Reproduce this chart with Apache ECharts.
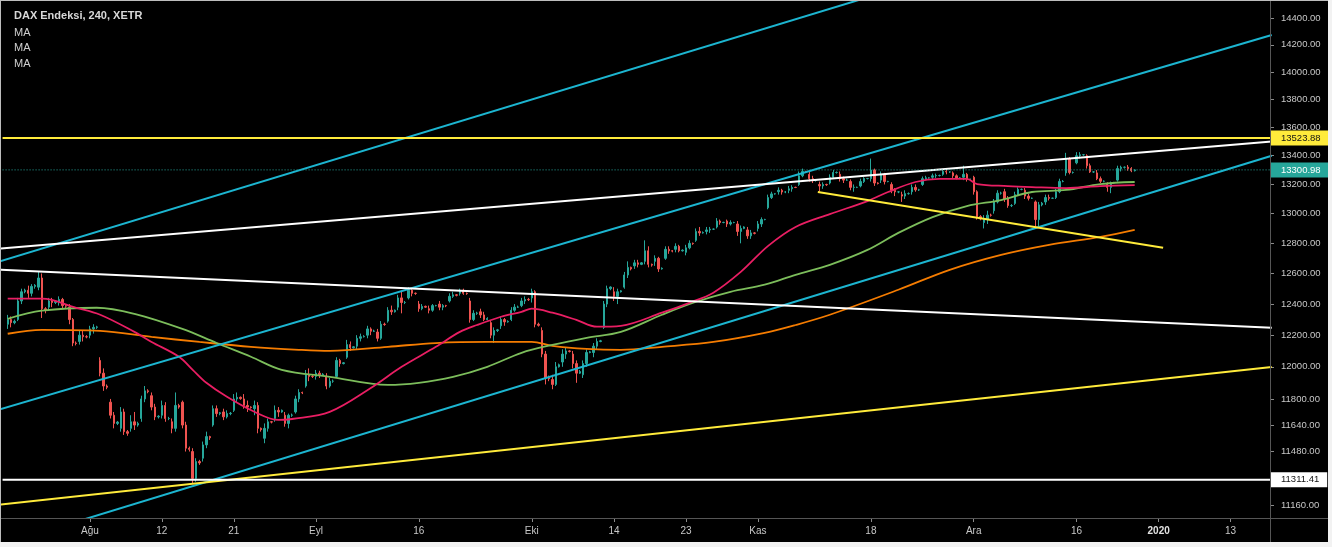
<!DOCTYPE html>
<html><head><meta charset="utf-8">
<script src="https://cdn.jsdelivr.net/npm/echarts@6/dist/echarts.min.js"></script>
<style>html,body{margin:0;padding:0;background:#000;}#c{width:1332px;height:547px;}</style>
</head><body><div id="c"></div>
<script>
// ---------- axis structure ----------
const leadSlot = '2019-07-19 17:00';
const firstDay = '2019-07-22', lastDay = '2020-01-16';
const holidays = ['2019-10-03','2019-12-24','2019-12-25','2019-12-26','2019-12-31','2020-01-01'];
const barTimes = ['09:00','13:00','17:00'];
const dateLabels = {'2019-08-01':'Ağu','2019-08-12':'12','2019-08-21':'21','2019-09-02':'Eyl','2019-09-16':'16',
  '2019-10-01':'Eki','2019-10-14':'14','2019-10-23':'23','2019-11-01':'Kas','2019-11-18':'18','2019-12-02':'Ara',
  '2019-12-16':'16','2020-01-02':'2020','2020-01-13':'13'};
const yTicks = [11160,11480,11640,11800,12000,12200,12400,12600,12800,13000,13200,13400,13600,13800,14000,14200,14400];
const yRange = [11088, 14521];

// ---------- candles [open, close, low, high], 3 bars per session from 2019-07-22 ----------
const candles = [
[12270,12300,12240,12330],[12300,12280,12250,12320],[12280,12289,12270,12300],
[12300,12420,12290,12440],[12420,12480,12400,12500],[12480,12490,12470,12500],
[12490,12470,12440,12520],[12470,12515,12450,12530],[12515,12522,12500,12530],
[12510,12570,12490,12610],[12570,12370,12310,12600],[12370,12362,12340,12380],
[12380,12420,12360,12440],[12420,12410,12380,12440],[12410,12419,12400,12425],
[12410,12430,12390,12450],[12430,12390,12370,12440],[12390,12386,12375,12400],
[12380,12300,12270,12400],[12300,12150,12130,12310],[12150,12147,12135,12160],
[12160,12200,12140,12230],[12200,12190,12160,12230],[12190,12189,12180,12200],
[12200,12240,12180,12260],[12240,12250,12210,12270],[12250,12253,12240,12260],
[12040,11960,11940,12060],[11960,11880,11850,11990],[11880,11872,11860,11890],
[11780,11700,11680,11800],[11700,11650,11620,11720],[11650,11658,11640,11665],
[11620,11720,11600,11750],[11720,11600,11580,11740],[11600,11590,11575,11610],
[11620,11660,11600,11700],[11660,11640,11610,11720],[11640,11650,11630,11660],
[11680,11800,11660,11820],[11800,11850,11780,11880],[11850,11845,11835,11860],
[11820,11750,11730,11840],[11750,11690,11670,11770],[11690,11694,11680,11700],
[11700,11760,11680,11790],[11760,11680,11660,11780],[11680,11680,11670,11690],
[11660,11620,11590,11680],[11620,11760,11600,11840],[11760,11750,11740,11770],
[11780,11640,11620,11790],[11640,11500,11480,11660],[11500,11493,11480,11510],
[11480,11320,11290,11500],[11320,11420,11300,11440],[11420,11412,11400,11430],
[11440,11520,11420,11540],[11520,11570,11500,11600],[11570,11563,11550,11575],
[11640,11740,11630,11760],[11740,11710,11690,11760],[11710,11715,11700,11720],
[11720,11690,11670,11740],[11690,11710,11680,11730],[11710,11712,11700,11720],
[11730,11800,11720,11830],[11800,11810,11780,11840],[11810,11802,11795,11815],
[11800,11760,11740,11830],[11760,11750,11720,11790],[11750,11747,11740,11755],
[11740,11760,11700,11790],[11760,11620,11590,11780],[11620,11612,11600,11625],
[11560,11620,11530,11650],[11620,11660,11600,11680],[11660,11658,11650,11665],
[11680,11730,11660,11760],[11730,11720,11690,11750],[11720,11730,11715,11735],
[11700,11650,11630,11720],[11650,11700,11620,11710],[11700,11701,11690,11710],
[11720,11800,11710,11820],[11800,11840,11780,11860],[11840,11838,11830,11845],
[11880,11950,11870,11980],[11950,11940,11910,11990],[11940,11939,11930,11950],
[11940,11960,11920,11980],[11960,11950,11930,11975],[11950,11953,11945,11960],
[11940,11880,11860,11960],[11880,11910,11870,11930],[11910,11910,11900,11920],
[11940,12040,11930,12060],[12040,12020,12000,12050],[12020,12025,12015,12030],
[12060,12140,12050,12170],[12140,12120,12100,12160],[12120,12126,12115,12130],
[12130,12180,12110,12200],[12180,12190,12160,12210],[12190,12192,12185,12200],
[12200,12240,12180,12260],[12240,12225,12200,12250],[12225,12226,12220,12235],
[12220,12180,12160,12240],[12180,12270,12170,12290],[12270,12268,12260,12280],
[12290,12360,12280,12380],[12360,12350,12330,12390],[12350,12360,12345,12365],
[12380,12440,12360,12460],[12440,12410,12340,12480],[12410,12410,12400,12420],
[12440,12490,12430,12510],[12490,12470,12450,12500],[12470,12469,12460,12475],
[12400,12370,12350,12420],[12370,12385,12360,12400],[12385,12380,12375,12390],
[12370,12360,12340,12390],[12360,12390,12350,12400],[12390,12390,12385,12395],
[12400,12380,12360,12420],[12380,12390,12360,12400],[12390,12389,12380,12395],
[12420,12450,12410,12470],[12450,12460,12440,12480],[12460,12457,12450,12465],
[12470,12490,12455,12500],[12490,12470,12460,12500],[12470,12468,12460,12475],
[12420,12300,12280,12440],[12300,12340,12290,12360],[12340,12342,12330,12350],
[12350,12330,12310,12370],[12330,12300,12290,12350],[12300,12307,12295,12315],
[12280,12200,12180,12290],[12200,12230,12150,12250],[12230,12234,12220,12240],
[12260,12300,12240,12320],[12300,12285,12260,12310],[12285,12288,12280,12295],
[12300,12360,12290,12380],[12360,12380,12350,12400],[12380,12381,12375,12390],
[12390,12420,12380,12440],[12420,12430,12400,12450],[12430,12428,12420,12440],
[12440,12480,12410,12500],[12480,12270,12250,12490],[12270,12263,12255,12280],
[12230,12080,12060,12250],[12080,11930,11890,12100],[11930,11925,11910,11945],
[11920,11890,11860,11950],[11890,12000,11880,12030],[12000,12013,11995,12020],
[12030,12080,12000,12110],[12080,12100,12050,12120],[12100,12097,12090,12105],
[12080,12020,11990,12100],[12020,11960,11900,12040],[11960,11970,11955,11980],
[11950,12020,11930,12040],[12020,12090,12000,12110],[12090,12094,12085,12100],
[12090,12130,12060,12150],[12130,12160,12110,12180],[12160,12164,12155,12170],
[12250,12400,12240,12420],[12400,12500,12380,12520],[12500,12511,12490,12515],
[12480,12450,12420,12510],[12450,12480,12400,12500],[12480,12486,12475,12490],
[12510,12590,12500,12610],[12590,12640,12570,12680],[12640,12630,12620,12645],
[12650,12670,12630,12690],[12670,12660,12640,12690],[12660,12670,12655,12675],
[12680,12750,12660,12820],[12750,12660,12640,12780],[12660,12655,12645,12665],
[12680,12700,12650,12720],[12700,12630,12610,12710],[12630,12634,12625,12640],
[12700,12760,12690,12780],[12760,12750,12730,12780],[12750,12748,12740,12755],
[12760,12780,12740,12800],[12780,12750,12740,12790],[12750,12754,12745,12760],
[12740,12770,12720,12790],[12770,12800,12760,12820],[12800,12798,12790,12805],
[12820,12880,12810,12900],[12880,12870,12850,12910],[12870,12872,12865,12880],
[12880,12890,12860,12910],[12890,12895,12870,12910],[12895,12895,12890,12900],
[12910,12950,12900,12970],[12950,12940,12925,12960],[12940,12941,12935,12945],
[12950,12930,12910,12960],[12930,12940,12920,12955],[12940,12940,12935,12945],
[12930,12880,12850,12950],[12880,12900,12800,12920],[12900,12910,12895,12915],
[12890,12850,12830,12910],[12850,12870,12830,12890],[12870,12867,12860,12875],
[12900,12930,12880,12950],[12930,12960,12910,12975],[12960,12961,12955,12965],
[13040,13110,13030,13130],[13110,13135,13100,13150],[13135,13136,13130,13140],
[13150,13160,13130,13180],[13160,13148,13130,13170],[13148,13148,13140,13155],
[13160,13170,13140,13190],[13170,13180,13150,13195],[13180,13179,13175,13185],
[13200,13260,13190,13290],[13260,13290,13250,13310],[13290,13289,13285,13295],
[13270,13240,13220,13290],[13240,13228,13210,13260],[13228,13228,13220,13235],
[13200,13190,13150,13220],[13190,13200,13170,13215],[13200,13198,13190,13205],
[13210,13250,13200,13270],[13250,13283,13240,13300],[13283,13283,13275,13290],
[13270,13240,13220,13290],[13240,13230,13210,13255],[13230,13230,13225,13240],
[13220,13180,13160,13235],[13180,13180,13150,13200],[13180,13180,13175,13185],
[13190,13220,13180,13240],[13220,13241,13210,13250],[13241,13241,13235,13245],
[13240,13300,13220,13380],[13300,13210,13190,13310],[13210,13207,13200,13215],
[13230,13270,13210,13290],[13270,13220,13200,13280],[13220,13221,13215,13225],
[13200,13160,13140,13215],[13160,13149,13120,13175],[13149,13149,13140,13155],
[13130,13120,13080,13150],[13120,13137,13100,13160],[13137,13137,13130,13145],
[13150,13180,13130,13200],[13180,13163,13150,13200],[13163,13163,13155,13170],
[13200,13240,13190,13255],[13240,13246,13230,13260],[13246,13246,13240,13250],
[13250,13260,13235,13275],[13260,13262,13245,13275],[13262,13262,13255,13268],
[13270,13290,13260,13300],[13290,13287,13270,13300],[13287,13287,13280,13292],
[13280,13260,13245,13290],[13260,13245,13235,13270],[13245,13245,13240,13250],
[13250,13270,13230,13330],[13270,13236,13220,13280],[13236,13236,13230,13240],
[13250,13150,13130,13260],[13150,12980,12960,13160],[12980,12965,12955,12990],
[12940,12960,12900,12990],[12960,12990,12930,13020],[12990,12989,12980,13000],
[13020,13080,13000,13100],[13080,13140,13070,13160],[13140,13140,13130,13150],
[13150,13100,13080,13170],[13100,13055,13040,13120],[13055,13055,13045,13065],
[13070,13130,13060,13150],[13130,13166,13120,13180],[13166,13166,13160,13172],
[13160,13120,13100,13175],[13120,13105,13090,13135],[13105,13105,13100,13110],
[13080,12960,12900,13090],[12960,13060,12910,13080],[13060,13071,13050,13080],
[13080,13110,13060,13130],[13110,13105,13090,13130],[13105,13105,13100,13110],
[13110,13150,13100,13170],[13150,13221,13140,13240],[13221,13221,13215,13230],
[13280,13380,13260,13420],[13380,13283,13270,13390],[13283,13283,13275,13290],
[13350,13400,13340,13425],[13400,13407,13380,13425],[13407,13407,13400,13412],
[13400,13330,13310,13410],[13330,13287,13280,13345],[13287,13287,13280,13292],
[13280,13240,13230,13300],[13240,13222,13210,13255],[13222,13222,13215,13228],
[13200,13180,13150,13215],[13180,13211,13140,13220],[13211,13211,13205,13218],
[13230,13310,13220,13330],[13310,13319,13290,13330],[13319,13319,13310,13325],
[13320,13310,13295,13335],[13310,13295,13285,13320],[13295,13300.98,13290,13305]
];

// ---------- moving averages: [bar index from 2019-07-22, price] ----------
const maFast = [[0,12435],[10,12435],[20,12376],[27,12331],[37,12221],[42,12157],[50,12063],[54,11981],[58,11900],
 [64,11813],[72,11721],[79,11671],[83,11677],[94,11721],[106,11868],[115,12000],[125,12126],[132,12221],[137,12265],
 [144,12318],[150,12350],[153,12370],[159,12344],[166,12298],[172,12254],[179,12260],[191,12344],[199,12408],
 [206,12474],[214,12610],[222,12783],[230,12910],[240,12997],[251,13086],[257,13148],[265,13217],[272,13238],
 [280,13238],[283,13203],[292,13189],[299,13182],[309,13175],[319,13189],[329,13196]];
const maMid = [[0,12305],[10,12357],[26,12376],[37,12337],[51,12240],[61,12150],[71,12063],[80,11981],[94,11937],
 [111,11887],[120,11900],[130,11937],[140,12000],[150,12088],[159,12138],[169,12183],[179,12221],[191,12331],
 [201,12415],[211,12480],[221,12526],[230,12591],[240,12657],[251,12756],[260,12870],[270,12977],[280,13052],
 [290,13093],[299,13148],[309,13162],[319,13203],[329,13217]];
const maSlow = [[0,12209],[10,12234],[27,12228],[42,12189],[56,12157],[71,12126],[85,12107],[94,12100],[111,12126],
 [125,12150],[140,12157],[153,12157],[159,12132],[169,12113],[179,12107],[191,12126],[206,12157],[221,12215],
 [230,12265],[240,12331],[260,12493],[275,12624],[290,12723],[304,12790],[319,12843],[329,12890]];

// ---------- drawn trend lines: two anchors [bar index, price] ----------
const cyanTop = [[-2,12682],[258,14612]];
const cyanMid = [[-2,11738],[369,14273]];
const cyanLow = [[20,11066],[369,13400]];
const whiteUp = [[-2,12765],[369,13500]];
const whiteDown = [[-2,12625],[369,12247]];
const yellowUp = [[-2,11167],[369,11999]];
const yellowDown = [[236.5,13148],[337.3,12770]];
const levelYellow = 13523.88, levelWhite = 11311.41, lastPrice = 13300.98;

// ---------- build ----------
const days = [];
{
  let t = Date.parse(firstDay + 'T00:00:00Z');
  const end = Date.parse(lastDay + 'T00:00:00Z');
  while (t <= end) {
    const d = new Date(t), s = d.toISOString().slice(0,10), wd = d.getUTCDay();
    if (wd !== 0 && wd !== 6 && holidays.indexOf(s) < 0) days.push(s);
    t += 86400000;
  }
}
const cats = [leadSlot];
days.forEach(d => barTimes.forEach(tm => cats.push(d + ' ' + tm)));
const labelOf = {};
cats.forEach((c, i) => { const p = c.split(' '); if (p[1] === '09:00' && dateLabels[p[0]]) labelOf[i] = dateLabels[p[0]]; });
const showAt = (i) => labelOf[i] !== undefined;
// logarithmic price scale: values are plotted as K*ln(price)
const K = 10000;
const L = p => K * Math.log(p);
const unL = v => Math.exp(v / K);
const toLog = arr => arr.map(p => [p[0], L(p[1])]);
const xMin = -1.5, xMax = cats.length - 1.5;   // value axis aligned with category bands (lead slot = -1)

const lineS = (data, color, z, w) => ({type:'line', xAxisIndex:1, yAxisIndex:0, data:toLog(data), symbol:'none',
  silent:true, clip:true, z:z, lineStyle:{color:color, width:w||2}, smooth:false});
const maS = (data, color) => Object.assign(lineS(data, color, 3, 1.8), {smooth:0.35});

const tag = (txt, bg, fg) => ({show:true, position:'end', distance:0, formatter:txt, backgroundColor:bg, color:fg,
  padding:[2,8,2,11], fontSize:9.5, fontFamily:'Liberation Sans', lineHeight:11});

const chart = echarts.init(document.getElementById('c'));
chart.setOption({
  backgroundColor:'#000',
  animation:false,
  grid:{left:2.57, right:62, top:2, bottom:29},
  xAxis:[{type:'category', data:cats, boundaryGap:true,
      axisLine:{show:false, onZero:false},
      axisTick:{show:true, interval:showAt, alignWithLabel:true, length:4, lineStyle:{color:'#8a8a8a'}},
      axisLabel:{interval:showAt, margin:8, color:'#c8c8c8', fontSize:10, fontFamily:'Liberation Sans',
        formatter:(v, i) => labelOf[i] === '2020' ? '{b|2020}' : (labelOf[i] || ''),
        rich:{b:{fontWeight:'bold', color:'#e0e0e0', fontSize:10, fontFamily:'Liberation Sans'}}},
      splitLine:{show:false}},
    {type:'value', min:xMin, max:xMax, show:false, axisLine:{onZero:false}}],
  yAxis:[{type:'value', position:'right', min:L(yRange[0]), max:L(yRange[1]),
      axisLine:{show:false, onZero:false},
      axisTick:{show:true, length:4, customValues:yTicks.map(L), lineStyle:{color:'#8a8a8a'}},
      axisLabel:{customValues:yTicks.map(L), margin:11, color:'#c8c8c8', fontSize:9.5, fontFamily:'Liberation Sans',
        formatter:v => unL(v).toFixed(2)},
      splitLine:{show:false}}],
  graphic:[
    {type:'rect', shape:{x:0, y:0, width:1332, height:1}, style:{fill:'#bdbdbd'}, silent:true, z:100},
    {type:'rect', shape:{x:0, y:0, width:1, height:547}, style:{fill:'#bdbdbd'}, silent:true, z:100},
    {type:'rect', shape:{x:1328, y:0, width:4, height:547}, style:{fill:'#f2f2f2'}, silent:true, z:100},
    {type:'rect', shape:{x:0, y:542, width:1332, height:5}, style:{fill:'#f2f2f2'}, silent:true, z:100},
    {type:'line', shape:{x1:0, y1:518.5, x2:1328, y2:518.5}, style:{stroke:'#555', lineWidth:1}, silent:true, z:99},
    {type:'line', shape:{x1:1270.5, y1:0, x2:1270.5, y2:542}, style:{stroke:'#555', lineWidth:1}, silent:true, z:99},
    {type:'text', left:14, top:10, style:{text:'DAX Endeksi, 240, XETR', fill:'#d8d8d8', fontSize:11, fontWeight:'bold', fontFamily:'Liberation Sans'}, z:100},
    {type:'text', left:14, top:27, style:{text:'MA', fill:'#cfcfcf', fontSize:11, fontFamily:'Liberation Sans'}, z:100},
    {type:'text', left:14, top:42, style:{text:'MA', fill:'#cfcfcf', fontSize:11, fontFamily:'Liberation Sans'}, z:100},
    {type:'text', left:14, top:58, style:{text:'MA', fill:'#cfcfcf', fontSize:11, fontFamily:'Liberation Sans'}, z:100}
  ],
  series:[
    {type:'candlestick', xAxisIndex:0, yAxisIndex:0, z:2, silent:true, barWidth:'55%',
      data:['-'].concat(candles.map(c => c.map(L))),
      itemStyle:{color:'#26a69a', color0:'#ef5350', borderColor:'#26a69a', borderColor0:'#ef5350', borderWidth:1}},
    maS(maSlow, '#f57c00'),
    maS(maMid, '#7cbd5b'),
    maS(maFast, '#e91e63'),
    lineS(cyanTop, '#1cb5d0', 4),
    lineS(cyanMid, '#1cb5d0', 4),
    lineS(cyanLow, '#1cb5d0', 4),
    lineS(whiteUp, '#ffffff', 4),
    lineS(whiteDown, '#ffffff', 4),
    lineS(yellowUp, '#ffeb3b', 4),
    lineS(yellowDown, '#ffeb3b', 4),
    Object.assign(lineS([[xMin, lastPrice],[xMax, lastPrice]], '#26a69a', 5, 1), {lineStyle:{color:'#26a69a', width:1, type:[1,2]},
      endLabel:tag(lastPrice.toFixed(2), '#26a69a', '#ffffff')}),
    Object.assign(lineS([[xMin, levelYellow],[xMax, levelYellow]], '#ffeb3b', 6, 2), {endLabel:tag(levelYellow.toFixed(2), '#ffeb3b', '#131313')}),
    Object.assign(lineS([[xMin, levelWhite],[xMax, levelWhite]], '#ffffff', 6, 2), {endLabel:tag(levelWhite.toFixed(2), '#ffffff', '#131313')})
  ]
});
</script></body></html>
